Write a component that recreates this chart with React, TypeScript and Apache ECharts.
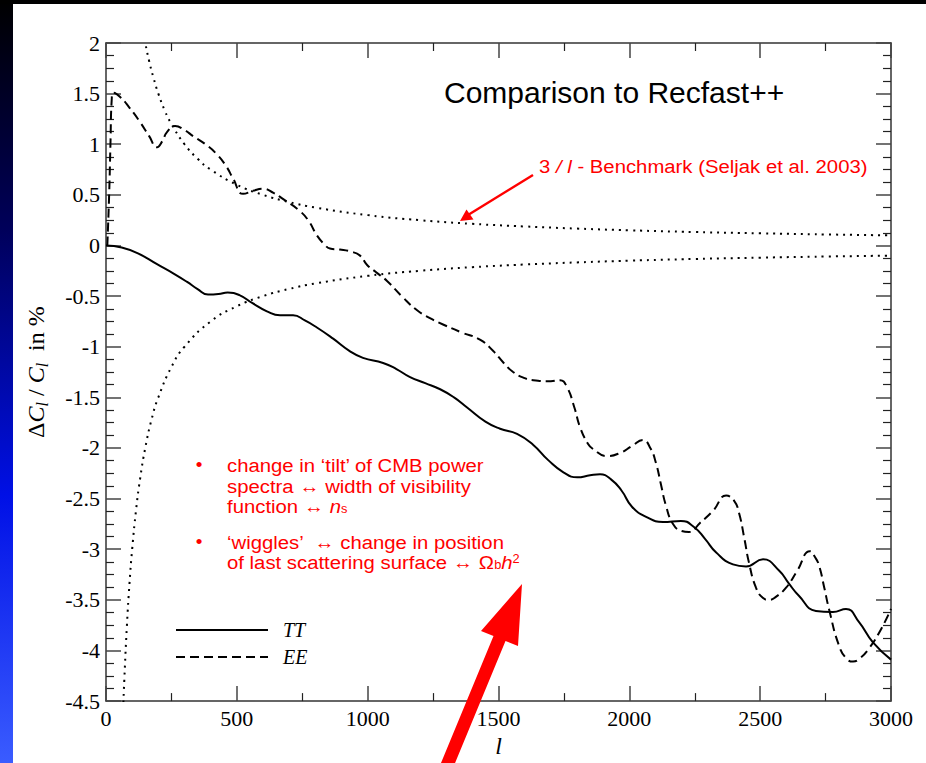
import React, { useEffect, useRef } from 'react';
import * as echarts from 'echarts';

// ---- data ----
const ttL = [0, 60, 120, 195, 260, 310, 350, 390, 430, 465, 510, 560, 615, 665, 715, 760, 806, 868, 930, 982, 1059, 1110, 1162, 1220, 1277, 1330, 1380, 1450, 1506, 1571, 1633, 1690, 1748, 1801, 1850, 1888, 1930, 1970, 2010, 2064, 2129, 2197, 2247, 2290, 2331, 2396, 2446, 2511, 2572, 2610, 2648, 2713, 2778, 2828, 2878, 2931, 3000];
const ttV = [0, -0.02, -0.075, -0.185, -0.28, -0.36, -0.43, -0.485, -0.48, -0.465, -0.49, -0.57, -0.65, -0.69, -0.69, -0.74, -0.81, -0.92, -1.04, -1.11, -1.16, -1.22, -1.3, -1.36, -1.42, -1.5, -1.6, -1.74, -1.81, -1.86, -1.97, -2.12, -2.24, -2.29, -2.27, -2.26, -2.31, -2.42, -2.58, -2.68, -2.73, -2.72, -2.78, -2.9, -3.03, -3.15, -3.17, -3.1, -3.21, -3.34, -3.46, -3.61, -3.62, -3.59, -3.72, -3.92, -4.09];

const eeL = [5, 12, 17, 22, 28, 53, 90, 130, 165, 195, 215, 233, 264, 300, 333, 380, 424, 460, 486, 524, 562, 600, 640, 676, 741, 775, 806, 835, 856, 894, 935, 971, 997, 1030, 1074, 1130, 1189, 1240, 1288, 1360, 1429, 1479, 1520, 1556, 1600, 1633, 1700, 1735, 1762, 1790, 1811, 1840, 1861, 1915, 1964, 2010, 2052, 2080, 2102, 2120, 2140, 2167, 2200, 2228, 2270, 2320, 2370, 2400, 2419, 2440, 2457, 2484, 2510, 2534, 2560, 2599, 2640, 2690, 2710, 2725, 2745, 2763, 2801, 2830, 2855, 2880, 2916, 2960, 3000];
const eeV = [0.0, 0.5, 1.0, 1.45, 1.51, 1.47, 1.36, 1.22, 1.08, 0.97, 1.03, 1.12, 1.18, 1.14, 1.08, 1.0, 0.9, 0.78, 0.66, 0.51, 0.54, 0.56, 0.52, 0.46, 0.34, 0.24, 0.1, 0.01, -0.03, -0.04, -0.06, -0.1, -0.19, -0.26, -0.35, -0.5, -0.64, -0.72, -0.78, -0.86, -0.93, -1.04, -1.16, -1.25, -1.31, -1.33, -1.34, -1.33, -1.4, -1.6, -1.79, -1.95, -2.01, -2.08, -2.05, -1.98, -1.92, -2.0, -2.15, -2.35, -2.57, -2.75, -2.82, -2.83, -2.74, -2.62, -2.47, -2.52, -2.64, -2.9, -3.13, -3.38, -3.48, -3.5, -3.47, -3.38, -3.22, -3.02, -3.08, -3.16, -3.38, -3.59, -3.95, -4.08, -4.11, -4.08, -3.98, -3.8, -3.59];

const benchUpL = [130, 140, 150, 165, 180, 200, 225, 250, 300, 350, 400, 500, 600, 700, 800, 1000, 1200, 1400, 1600, 1800, 2000, 2250, 2500, 2750, 3000];
const benchUpV = [2.31, 2.14, 2.0, 1.82, 1.67, 1.5, 1.33, 1.2, 1.0, 0.857, 0.75, 0.6, 0.5, 0.429, 0.375, 0.3, 0.25, 0.214, 0.188, 0.167, 0.15, 0.133, 0.12, 0.109, 0.1];
const benchLoL = [60, 65, 70, 80, 90, 100, 115, 130, 150, 175, 200, 250, 300, 400, 500, 600, 700, 800, 1000, 1200, 1400, 1600, 1800, 2000, 2250, 2500, 2750, 3000];
const benchLoV = [-5.0, -4.62, -4.29, -3.75, -3.33, -3.0, -2.61, -2.31, -2.0, -1.71, -1.5, -1.2, -1.0, -0.75, -0.6, -0.5, -0.429, -0.375, -0.3, -0.25, -0.214, -0.188, -0.167, -0.15, -0.133, -0.12, -0.109, -0.1];

const seriesNames = ['TT', 'EE'];

const SERIF = 'Liberation Serif';
const SANS = 'Liberation Sans';
const RED = '#ff0000';

const zip = (a: number[], b: number[]) => a.map((x, i) => [x, b[i]]);

export default function App() {
  const ref = useRef<HTMLDivElement>(null);
  useEffect(() => {
    const chart = echarts.init(ref.current!, null, { renderer: 'svg' });
    const axisLine = { show: true, onZero: false, lineStyle: { color: '#333', width: 1.5 } };
    const xCommon = {
      type: 'value', min: 0, max: 3000, interval: 500,
      axisLine,
      axisTick: { show: true, inside: true, length: 15, lineStyle: { color: '#444', width: 1.5 } },
      minorTick: { show: true, splitNumber: 2, length: 8, lineStyle: { color: '#222', width: 1.2 } },
      splitLine: { show: false },
    };
    const yCommon = {
      type: 'value', min: -4.5, max: 2, interval: 0.5,
      axisLine,
      axisTick: { show: true, inside: true, length: 15, lineStyle: { color: '#444', width: 1.5 } },
      minorTick: { show: true, splitNumber: 4, length: 8, lineStyle: { color: '#222', width: 1.2 } },
      splitLine: { show: false },
    };
    const fmt = (v: number) => '{t|' + String(v) + '}';
    const tickRich = { t: { fontFamily: SERIF, fontSize: 22, lineHeight: 22, color: '#000' } };
    const lineText = (x: number, y: number, text: string, extra: any = {}) => ({
      type: 'text', z: 50, x, y, scaleX: 1.07,
      style: { text, fill: RED, fontFamily: SANS, fontSize: 19, lineHeight: 18, textAlign: 'left', textVerticalAlign: 'middle', ...extra },
    });
    const richRed = {
      i: { fontFamily: SANS, fontSize: 19, fontStyle: 'italic', lineHeight: 18, fill: RED, color: RED },
      sb: { fontFamily: SANS, fontSize: 12, lineHeight: 18, verticalAlign: 'bottom', fill: RED, color: RED },
      sp: { fontFamily: SANS, fontSize: 12, lineHeight: 18, verticalAlign: 'top', fill: RED, color: RED },
    };
    chart.setOption({
      animation: false,
      backgroundColor: '#ffffff',
      textStyle: { fontFamily: SERIF },
      grid: { left: 106, top: 43, right: 35, bottom: 56, containLabel: false },
      legend: {
        data: seriesNames,
        orient: 'vertical',
        left: 175,
        top: 620,
        padding: 0,
        itemWidth: 92,
        itemHeight: 16,
        itemGap: 7,
        itemStyle: { opacity: 0, color: 'transparent', borderWidth: 0 },
        textStyle: { fontFamily: SERIF, fontStyle: 'italic', fontSize: 20, color: '#000', lineHeight: 16, padding: [0, 0, 0, 10] },
      },
      xAxis: [
        {
          ...xCommon, position: 'bottom',
          axisLabel: { color: '#000', fontFamily: SERIF, fontSize: 22, margin: 6, formatter: fmt, rich: tickRich },
          name: 'l', nameLocation: 'middle', nameGap: 30,
          nameTextStyle: { fontFamily: SERIF, fontStyle: 'italic', fontSize: 24, color: '#000' },
        },
        { ...xCommon, position: 'top', axisLabel: { show: false } },
      ],
      yAxis: [
        {
          ...yCommon, position: 'left',
          axisLabel: { color: '#000', fontFamily: SERIF, fontSize: 22, margin: 6, formatter: fmt, rich: tickRich },
          name: '{d|Δ}{c|C}{s|l}{n| / }{c|C}{s|l}{n|  in %}',
          nameLocation: 'middle', nameRotate: 90, nameGap: 56,
          nameTextStyle: {
            color: '#000',
            rich: {
              d: { fontFamily: SERIF, fontSize: 24, lineHeight: 28, color: '#000' },
              c: { fontFamily: SERIF, fontStyle: 'italic', fontSize: 24, lineHeight: 28, color: '#000' },
              s: { fontFamily: SERIF, fontStyle: 'italic', fontSize: 16, lineHeight: 28, verticalAlign: 'bottom', color: '#000' },
              n: { fontFamily: SERIF, fontSize: 24, lineHeight: 28, color: '#000' },
            },
          },
        },
        { ...yCommon, position: 'right', axisLabel: { show: false } },
      ],
      series: [
        {
          name: 'TT', type: 'line', data: zip(ttL, ttV), smooth: 0.5,
          showSymbol: false, symbol: 'none', clip: true,
          lineStyle: { color: '#000', width: 2, type: 'solid' }, itemStyle: { color: '#000' },
        },
        {
          name: 'EE', type: 'line', data: zip(eeL, eeV), smooth: 0.5,
          showSymbol: false, symbol: 'none', clip: true,
          lineStyle: { color: '#000', width: 2, type: [9, 5] }, itemStyle: { color: '#000' },
        },
        {
          name: 'bench+', type: 'line', data: zip(benchUpL, benchUpV), smooth: 0.5,
          showSymbol: false, symbol: 'none', clip: true,
          lineStyle: { color: '#000', width: 2, type: [2, 5] },
        },
        {
          name: 'bench-', type: 'line', data: zip(benchLoL, benchLoV), smooth: 0.5,
          showSymbol: false, symbol: 'none', clip: true,
          lineStyle: { color: '#000', width: 2, type: [2, 5] },
        },
      ],
      graphic: [
        {
          type: 'rect', z: 50, shape: { x: 0, y: 0, width: 13, height: 763 },
          style: {
            fill: new echarts.graphic.LinearGradient(0, 0, 0, 1, [
              { offset: 0, color: '#000000' },
              { offset: 0.3, color: '#00005a' },
              { offset: 0.65, color: '#0010e6' },
              { offset: 1, color: '#3a5cff' },
            ]),
          },
        },
        { type: 'rect', z: 50, shape: { x: 0, y: 0, width: 926, height: 4 }, style: { fill: '#000' } },
        {
          type: 'text', z: 50, x: 444, y: 92,
          style: { text: 'Comparison to Recfast++', fill: '#000', fontFamily: SANS, fontSize: 30, textAlign: 'left', textVerticalAlign: 'middle' },
        },
        {
          type: 'text', z: 50, x: 539, y: 166, scaleX: 1.07,
          style: {
            text: '3 {i|/ l} - Benchmark (Seljak et al. 2003)', fill: RED, fontFamily: SANS, fontSize: 19,
            textAlign: 'left', textVerticalAlign: 'middle',
            rich: { i: { fontFamily: SANS, fontSize: 19, fontStyle: 'italic', fill: RED, color: RED } },
          },
        },
        { type: 'line', z: 50, shape: { x1: 533, y1: 175, x2: 468, y2: 215 }, style: { stroke: RED, lineWidth: 2.5 } },
        { type: 'polygon', z: 50, shape: { points: [[460, 221], [466.5, 209.5], [473.5, 219.5]] }, style: { fill: RED } },
        // bullet block
        { type: 'text', z: 50, x: 199, y: 464, style: { text: '•', fill: RED, fontFamily: SANS, fontSize: 19, lineHeight: 18, textAlign: 'center', textVerticalAlign: 'middle' } },
        { type: 'text', z: 50, x: 199, y: 541, style: { text: '•', fill: RED, fontFamily: SANS, fontSize: 19, lineHeight: 18, textAlign: 'center', textVerticalAlign: 'middle' } },
        lineText(227, 465, 'change in ‘tilt’ of CMB power'),
        lineText(227, 486, 'spectra ↔ width of visibility'),
        lineText(227, 506, 'function ↔ {i|n}{sb|s}', { rich: richRed }),
        lineText(227, 542, '‘wiggles’  ↔ change in position'),
        lineText(227, 562, 'of last scattering surface ↔ Ω{sb|b}{i|h}{sp|2}', { rich: richRed }),
        // big red arrow
        {
          type: 'polygon', z: 100,
          shape: { points: [[522, 584], [518, 646], [505.5, 641], [447, 782.5], [435, 777.5], [493.5, 636], [481, 631]] },
          style: { fill: RED },
        },
      ],
    });
    return () => chart.dispose();
  }, []);
  return <div ref={ref} style={{ position: 'absolute', left: 0, top: 0, width: 926, height: 763 }} />;
}
